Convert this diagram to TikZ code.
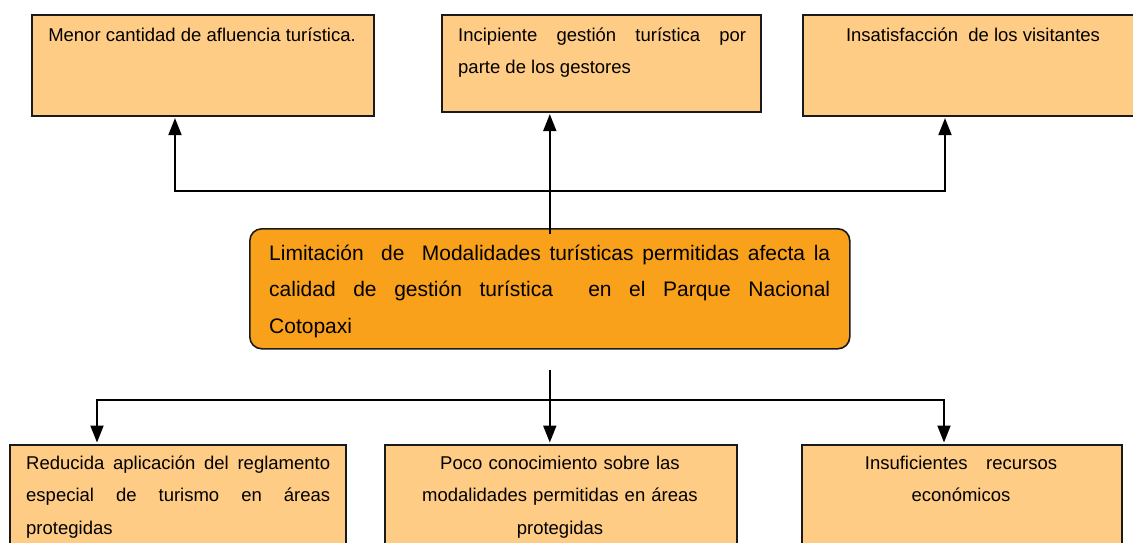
\documentclass[tikz,border=0pt]{standalone}
\usepackage{fontspec}
\setmainfont{Liberation Sans}
\usetikzlibrary{arrows.meta}
\definecolor{boxfill}{HTML}{FFCC85}
\definecolor{mainfill}{HTML}{F9A11B}
\definecolor{edge}{HTML}{1A1A1A}
\begin{document}
\begin{tikzpicture}[x=1pt,y=-1pt,
  >={Triangle[length=17pt,width=13pt]},
  box/.style={draw=edge, line width=1.6pt, fill=boxfill, anchor=north west, inner sep=0pt},
  mainbox/.style={draw=edge, line width=1.6pt, fill=mainfill, rounded corners=12pt, anchor=north west, inner sep=0pt},
  txt/.style={inner sep=0pt, font=\fontsize{18.5}{32.5}\selectfont, anchor=base west},
  bigtxt/.style={inner sep=0pt, font=\fontsize{21}{36.5}\selectfont, anchor=base west},
  conn/.style={line width=2pt, black, shorten <=1.5pt, shorten >=1.5pt},
]
\clip (0,0) rectangle (1133,542);
\fill[white] (0,0) rectangle (1133,542);
% boxes
\node[box, minimum width=342pt, minimum height=101pt] (b1) at (31,14) {};
\node[box, minimum width=319pt, minimum height=97pt] (b2) at (441,14) {};
\node[box, minimum width=345pt, minimum height=101pt] (b3) at (802,14) {};
\node[mainbox, minimum width=600pt, minimum height=120pt] (cb) at (249,228) {};
\node[box, minimum width=336pt, minimum height=120pt] (b4) at (9,444) {};
\node[box, minimum width=352pt, minimum height=120pt] (b5) at (384,444) {};
\node[box, minimum width=320pt, minimum height=120pt] (b6) at (801,444) {};
% texts
\node[txt, anchor=base] (t1) at (202,41) {Menor cantidad de afluencia turística.};
\node[txt, text width=288pt, align=justify] (t2) at (458,41) {Incipiente gestión turística por\linebreak parte de los gestores};
\node[txt, anchor=base] (t3) at (973,41) {Insatisfacción\ \ de los visitantes};
\node[bigtxt, text width=561pt, align=justify] (tc) at (269,260) {Limitación\ \ de\ \ Modalidades turísticas permitidas afecta la\linebreak calidad de gestión turística\ \ en el Parque Nacional\linebreak Cotopaxi};
\node[txt, text width=304pt, align=justify] (t4) at (26,469) {Reducida aplicación del reglamento\linebreak especial de turismo en áreas\linebreak protegidas};
\node[txt, text width=330pt, align=center, anchor=base] (t5) at (560,469) {Poco conocimiento sobre las\\ modalidades permitidas en áreas\\ protegidas};
\node[txt, text width=300pt, align=center, anchor=base] (t6) at (961,469) {Insuficientes\ \ \ recursos\\ económicos};
% connectors top
\coordinate (jt1) at (175,191);
\coordinate (jt3) at (945,191);
\draw[conn,<->] (jt1 |- b1.south) -- (jt1) -- (jt3) -- (jt3 |- b3.south);
\draw[conn,->] ([yshift=-7pt]cb.north) -- (cb.north |- b2.south);
% connectors bottom
\coordinate (jb1) at (97,400);
\coordinate (jb3) at (944,400);
\coordinate (cs) at ([yshift=-19pt]cb.south);
\draw[conn,<->] (jb1 |- b4.north) -- (jb1) -- (jb3) -- (jb3 |- b4.north);
\draw[conn,->] (cs) -- (cs |- b5.north);
\end{tikzpicture}
\end{document}
